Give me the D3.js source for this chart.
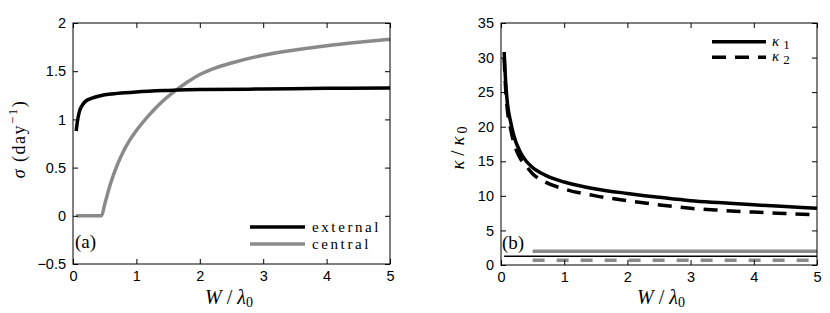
<!DOCTYPE html>
<html><head><meta charset="utf-8">
<script src="https://cdn.jsdelivr.net/npm/d3@7"></script>
<style>
body{margin:0;background:#fff;}
svg{display:block;}
.tick text{font-family:"Liberation Sans",Arial,sans-serif;font-size:14.5px;fill:#000;}
.serif{font-family:"Liberation Serif","Times New Roman",serif;}
</style></head>
<body>
<svg id="chart" width="830" height="313"></svg>
<script>
// ---- Panel (a): growth rate sigma vs W/lambda0 ----
const xExternal = [0.05,0.07,0.1,0.15,0.2,0.3,0.4,0.5,0.7,1,1.5,2,3,4,5];
const sigmaExternal = [0.88,0.98,1.08,1.15,1.19,1.22,1.24,1.255,1.27,1.285,1.30,1.31,1.315,1.322,1.325];
const xCentral = [0.05,0.45,0.5,0.6,0.7,0.8,0.9,1,1.2,1.4,1.6,1.8,2,2.25,2.5,3,3.5,4,4.5,5];
const sigmaCentral = [0,0,0.12,0.35,0.53,0.675,0.79,0.885,1.045,1.18,1.29,1.385,1.465,1.535,1.585,1.665,1.72,1.765,1.80,1.83];
const xTicks = [0,1,2,3,4,5];
const sigmaTicks = [-0.5,0,0.5,1,1.5,2];
const legendA = ["external","central"];

// ---- Panel (b): kappa/kappa0 vs W/lambda0 ----
const xKappa = [0.05,0.07,0.1,0.15,0.2,0.3,0.4,0.5,0.7,1,1.5,2,2.5,3,3.5,4,4.5,5];
const kappa1 = [30.8,27,23.5,20.8,18.8,16.4,15.0,14.1,13.0,12.0,11.0,10.35,9.8,9.3,9.0,8.7,8.45,8.2];
const kappa2 = [30.0,26,22.5,19.8,17.8,15.5,14.3,13.2,12.0,11.0,10.0,9.3,8.7,8.2,7.9,7.65,7.45,7.25];
const xFlat = [0.5,5];
const kappa1Central = [2.0,2.0];
const kappa2Central = [0.7,0.7];
const xRef = [0.05,5];
const kappaRef = [1.25,1.25];
const kappaTicks = [0,5,10,15,20,25,30,35];
const legendB = ["1","2"];

const svg = d3.select("#chart");
const GRAY = "#8a8a8a";
const fmt = d => String(d).replace("-", "\u2212");

function frame(g, x, y, xt, yt) {
  const [x0,x1] = x.range(), [y0,y1] = y.range();
  g.append("g").attr("transform",`translate(0,${y0})`)
    .call(d3.axisBottom(x).tickValues(xt).tickSize(-5).tickPadding(7).tickFormat(fmt))
    .call(s=>s.select(".domain").remove());
  g.append("g").attr("transform",`translate(0,${y1})`)
    .call(d3.axisTop(x).tickValues(xt).tickSize(-5).tickFormat(""))
    .call(s=>s.select(".domain").remove());
  g.append("g").attr("transform",`translate(${x0},0)`)
    .call(d3.axisLeft(y).tickValues(yt).tickSize(-5).tickPadding(7).tickFormat(fmt))
    .call(s=>s.select(".domain").remove());
  g.append("g").attr("transform",`translate(${x1},0)`)
    .call(d3.axisRight(y).tickValues(yt).tickSize(-5).tickFormat(""))
    .call(s=>s.select(".domain").remove());
  g.selectAll(".tick line").attr("stroke","#000");
  g.append("rect").attr("x",x0).attr("y",y1).attr("width",x1-x0).attr("height",y0-y1)
    .attr("fill","none").attr("stroke","#000").attr("stroke-width",1);
}

function xLabel(g, cx, y) {
  const t = g.append("text").attr("class","serif").attr("x",cx).attr("y",y)
    .attr("text-anchor","middle").attr("font-size",20);
  t.append("tspan").attr("font-style","italic").text("W");
  t.append("tspan").text(" / ");
  t.append("tspan").attr("font-style","italic").text("λ");
  t.append("tspan").attr("font-size",14).attr("dy",3).text("0");
}

function series(g, x, y, xs, ys, color, w, dash) {
  const line = d3.line().x((d,i)=>x(xs[i])).y(d=>y(d)).curve(d3.curveMonotoneX);
  const p = g.append("path").datum(ys).attr("d",line).attr("fill","none")
    .attr("stroke",color).attr("stroke-width",w).attr("stroke-linejoin","round");
  if (dash) p.attr("stroke-dasharray",dash);
  return p;
}

// Panel (a)
{
  const g = svg.append("g");
  const x = d3.scaleLinear().domain([0,5]).range([73,390]);
  const y = d3.scaleLinear().domain([-0.5,2]).range([264,23]);
  series(g,x,y,xCentral,sigmaCentral,GRAY,3.5);
  series(g,x,y,xExternal,sigmaExternal,"#000",3.5);
  frame(g,x,y,xTicks,sigmaTicks);
  xLabel(g,229,304);
  const yl = g.append("text").attr("class","serif").attr("transform","translate(25,139) rotate(-90)")
    .attr("text-anchor","middle").attr("font-size",18).attr("letter-spacing",1.5);
  yl.append("tspan").attr("font-style","italic").text("σ");
  yl.append("tspan").text("  (day");
  yl.append("tspan").attr("font-size",13).attr("dy",-8).text("−1");
  yl.append("tspan").attr("dy",8).text(")");
  g.append("text").attr("class","serif").attr("x",75).attr("y",248).attr("font-size",19).text("(a)");
  const cols = ["#000",GRAY];
  legendA.forEach((name,i)=>{
    const ly = 227 + i*17;
    g.append("line").attr("x1",250).attr("x2",305).attr("y1",ly).attr("y2",ly)
      .attr("stroke",cols[i]).attr("stroke-width",3.5);
    g.append("text").attr("class","serif").attr("x",312).attr("y",ly+5)
      .attr("font-size",15).attr("letter-spacing",2.6).text(name);
  });
}

// Panel (b)
{
  const g = svg.append("g");
  const x = d3.scaleLinear().domain([0,5]).range([501,817]);
  const y = d3.scaleLinear().domain([0,35]).range([265,23]);
  series(g,x,y,xRef,kappaRef,"#000",1.5);
  series(g,x,y,xFlat,kappa1Central,GRAY,3.5);
  series(g,x,y,xFlat,kappa2Central,GRAY,3.5,"12,12");
  series(g,x,y,xKappa,kappa2,"#000",3.5,"14,9");
  series(g,x,y,xKappa,kappa1,"#000",3.5);
  frame(g,x,y,xTicks,kappaTicks);
  xLabel(g,661,304);
  const yl = g.append("text").attr("class","serif").attr("transform","translate(464,148) rotate(-90)")
    .attr("text-anchor","middle").attr("font-size",19);
  yl.append("tspan").attr("font-style","italic").text("κ");
  yl.append("tspan").text(" / ");
  yl.append("tspan").attr("font-style","italic").text("κ");
  yl.append("tspan").attr("font-size",14).attr("dx",3).attr("dy",3).text("0");
  g.append("text").attr("class","serif").attr("x",502).attr("y",249).attr("font-size",19).text("(b)");
  const dashes = [null,"14,9"];
  legendB.forEach((sub,i)=>{
    const ly = 41.7 + i*15.6;
    const l = g.append("line").attr("x1",712).attr("x2",766).attr("y1",ly).attr("y2",ly)
      .attr("stroke","#000").attr("stroke-width",3.5);
    if (dashes[i]) l.attr("stroke-dasharray",dashes[i]);
    const t = g.append("text").attr("class","serif").attr("x",772).attr("y",ly+4).attr("font-size",15);
    t.append("tspan").attr("font-style","italic").text("κ");
    t.append("tspan").attr("font-size",13).attr("dx",4).attr("dy",3).text(sub);
  });
}
</script>
</body></html>
